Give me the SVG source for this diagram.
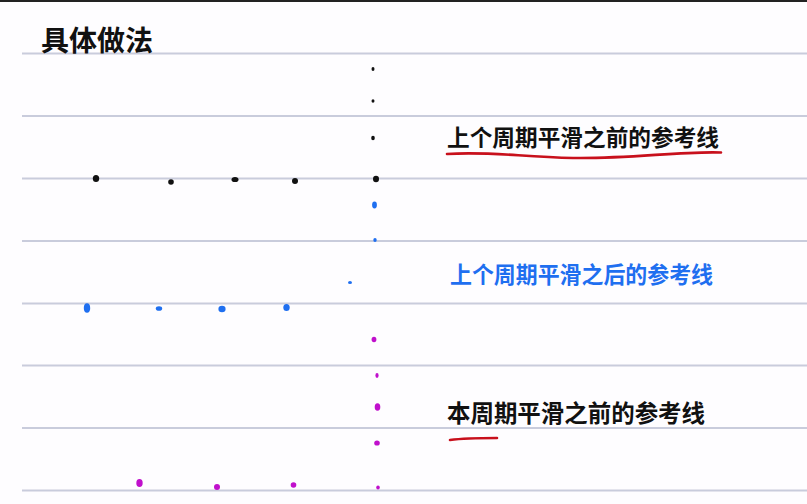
<svg xmlns="http://www.w3.org/2000/svg" width="807" height="504" viewBox="0 0 807 504">
<style>
.rule{stroke:#c9ccdc;stroke-width:1.8}
.hw{font-family:"Noto Sans CJK SC","Noto Sans CJK TC",sans-serif;font-weight:700}
.k{fill:#111}
.b{fill:#1f6ff0}
.m{fill:#c010cc}
.ul{fill:none;stroke:#c8101c;stroke-width:2.6;stroke-linecap:round}
</style>
<rect width="807" height="504" fill="#fefdff"/>
<rect x="0" y="0" width="807" height="2" fill="#222"/>
<g id="rules">
<line class="rule" x1="22" y1="53.5" x2="807" y2="53.5"/>
<line class="rule" x1="22" y1="116" x2="807" y2="116"/>
<line class="rule" x1="22" y1="178.5" x2="807" y2="178.5"/>
<line class="rule" x1="22" y1="241" x2="807" y2="241"/>
<line class="rule" x1="22" y1="303.5" x2="807" y2="303.5"/>
<line class="rule" x1="22" y1="365.5" x2="807" y2="365.5"/>
<line class="rule" x1="22" y1="428" x2="807" y2="428"/>
<line class="rule" x1="22" y1="490.5" x2="807" y2="490.5"/>
</g>
<g id="title"><text class="hw k" x="41" y="51" font-size="28" textLength="112" lengthAdjust="spacingAndGlyphs">具体做法</text></g>
<g id="black-dots" class="k">
<ellipse cx="373" cy="69" rx="1.5" ry="2"/>
<ellipse cx="373" cy="101" rx="1.5" ry="1.8"/>
<ellipse cx="373" cy="138" rx="1.8" ry="2.2"/>
<ellipse cx="376" cy="179" rx="3" ry="3.2"/>
<ellipse cx="96" cy="178.5" rx="3.2" ry="3.6"/>
<ellipse cx="171" cy="182" rx="2.8" ry="2.8"/>
<ellipse cx="235" cy="179.5" rx="3.5" ry="2.6"/>
<ellipse cx="295" cy="181" rx="3" ry="3"/>
</g>
<g id="blue-dots" class="b">
<ellipse cx="374.5" cy="205" rx="2.4" ry="3.4"/>
<ellipse cx="375" cy="240" rx="1.7" ry="2"/>
<ellipse cx="350" cy="282.5" rx="2" ry="1.6"/>
<ellipse cx="87" cy="308" rx="3.2" ry="4.8"/>
<ellipse cx="159" cy="308.5" rx="3.2" ry="2.3"/>
<ellipse cx="222" cy="309" rx="3.6" ry="3.3"/>
<ellipse cx="286.5" cy="307.5" rx="3.2" ry="3.5"/>
</g>
<g id="magenta-dots" class="m">
<ellipse cx="374" cy="339.5" rx="2.4" ry="2.8"/>
<ellipse cx="377" cy="375.5" rx="1.6" ry="2.4"/>
<ellipse cx="377.5" cy="407" rx="2.8" ry="3.8"/>
<ellipse cx="377" cy="443" rx="2.8" ry="2.6"/>
<ellipse cx="139.5" cy="483" rx="3.2" ry="4"/>
<ellipse cx="217" cy="487" rx="3" ry="3"/>
<ellipse cx="293.5" cy="485" rx="2.8" ry="2.8"/>
<ellipse cx="378" cy="487.5" rx="1.8" ry="2"/>
</g>
<g id="label-prev-before">
<text class="hw k" x="447" y="146" font-size="23" textLength="272" lengthAdjust="spacingAndGlyphs">上个周期平滑之前的参考线</text>
<path class="ul" d="M447,154 C490,151 520,157 573,158 C630,159 680,151 721,152.5"/>
</g>
<g id="label-prev-after">
<text class="hw b" x="450" y="283" font-size="23" textLength="263" lengthAdjust="spacingAndGlyphs">上个周期平滑之后的参考线</text>
</g>
<g id="label-cur-before">
<text class="hw k" x="447" y="422" font-size="24" textLength="258" lengthAdjust="spacingAndGlyphs">本周期平滑之前的参考线</text>
<path class="ul" d="M450,440 C465,438 480,438 497,438"/>
</g>
</svg>
